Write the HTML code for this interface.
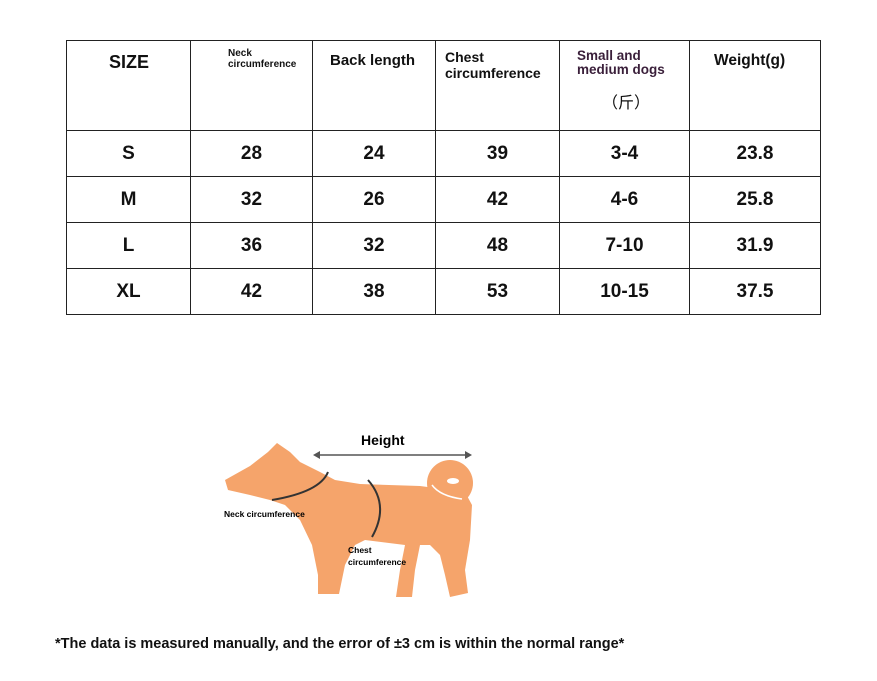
<!DOCTYPE html>
<html><head><meta charset="utf-8"><style>
body{margin:0;width:877px;height:681px;background:#fff;position:relative;overflow:hidden;font-family:"Liberation Sans","Noto Sans CJK SC",sans-serif;color:#111}
table{position:absolute;left:66px;top:40px;border-collapse:collapse}
td{border:1.3px solid #222;padding:0;text-align:center;font-weight:bold;font-size:19px;vertical-align:middle}
tr.h td{height:89px;vertical-align:top;position:relative}
tr.r td{height:45px}
.t{position:absolute;font-weight:bold;line-height:1.05}
.note{position:absolute;left:55px;top:636px;font-size:14.5px;font-weight:bold}
</style></head><body>
<table>
<tr class="h">
<td style="width:123px"><div class="t" style="left:42px;top:12px;font-size:18px">SIZE</div></td>
<td style="width:121px"><div class="t" style="left:37px;top:8px;font-size:10px;text-align:left">Neck<br>circumference</div></td>
<td style="width:122px"><div class="t" style="left:17px;top:12px;font-size:15px">Back length</div></td>
<td style="width:123px"><div class="t" style="left:9px;top:8px;font-size:14px;text-align:left;line-height:1.15">Chest<br>circumference</div></td>
<td style="width:129px"><div class="t" style="left:17px;top:8px;font-size:13.5px;text-align:left;color:#3a1f3a">Small and<br>medium dogs</div><div class="t" style="left:42px;top:55px;font-size:16px;font-weight:normal">（斤）</div></td>
<td style="width:130px"><div class="t" style="left:24px;top:12px;font-size:15.5px">Weight(g)</div></td>
</tr>
<tr class="r"><td>S</td><td>28</td><td>24</td><td>39</td><td>3-4</td><td>23.8</td></tr>
<tr class="r"><td>M</td><td>32</td><td>26</td><td>42</td><td>4-6</td><td>25.8</td></tr>
<tr class="r"><td>L</td><td>36</td><td>32</td><td>48</td><td>7-10</td><td>31.9</td></tr>
<tr class="r"><td>XL</td><td>42</td><td>38</td><td>53</td><td>10-15</td><td>37.5</td></tr>
</table>
<svg width="877" height="681" style="position:absolute;left:0;top:0">
<g fill="#f5a46b">
<polygon points="225,480 250,466 268,452 277,443 290,452 300,462 320,472 335,480 360,484 420,486 435,488 465,492 472,505 470,540 465,570 468,593 450,597 445,575 440,555 430,545 420,545 415,570 412,597 396,597 400,570 405,545 365,540 355,545 345,565 339,594 318,594 318,575 312,545 300,520 285,505 270,500 250,495 228,490"/>
<circle cx="450" cy="483" r="23"/>
</g>
<path d="M432,485 Q440,496 462,499" stroke="#fff" stroke-width="1.5" fill="none"/>
<ellipse cx="453" cy="481" rx="6" ry="3" fill="#fff"/>
<path d="M272,500 Q320,492 328,472" stroke="#333" stroke-width="2" fill="none"/>
<path d="M368,480 Q390,505 372,537" stroke="#333" stroke-width="2" fill="none"/>
<line x1="315" y1="455" x2="470" y2="455" stroke="#555" stroke-width="1.5"/>
<polygon points="313,455 320,451 320,459" fill="#555"/><polygon points="472,455 465,451 465,459" fill="#555"/>
<text x="361" y="445" font-size="14" font-weight="bold" font-family="Liberation Sans">Height</text>
<text x="224" y="517" font-size="8.5" font-weight="bold" font-family="Liberation Sans">Neck circumference</text>
<text x="348" y="553" font-size="8.5" font-weight="bold" font-family="Liberation Sans">Chest</text>
<text x="348" y="565" font-size="8.5" font-weight="bold" font-family="Liberation Sans">circumference</text>
</svg>
<div class="note">*The data is measured manually, and the error of ±3 cm is within the normal range*</div>
</body></html>
